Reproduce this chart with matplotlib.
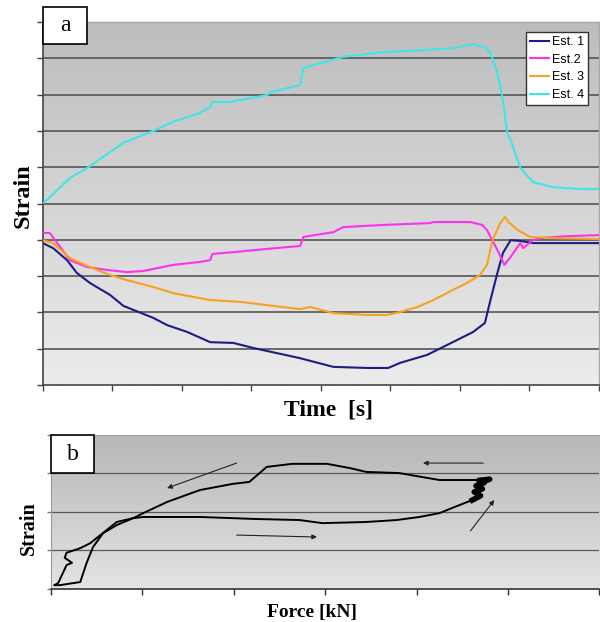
import numpy as np
import matplotlib
matplotlib.use('Agg')
import matplotlib.pyplot as plt
from matplotlib.colors import LinearSegmentedColormap
from matplotlib.patches import Rectangle

# ---- panel a data (time axis 0..8, strain axis 0..10) ----
est1_t = [0, 0.15, 0.35, 0.49, 0.68, 0.97, 1.16, 1.59, 1.79, 2.08, 2.41, 2.74, 3.03, 3.70, 4.18,
          4.67, 4.97, 5.14, 5.53, 5.76, 5.96, 6.19, 6.36, 6.44, 6.54, 6.62, 6.73, 6.87, 7.05, 8.0]
est1_s = [3.91, 3.77, 3.44, 3.09, 2.81, 2.48, 2.18, 1.85, 1.65, 1.46, 1.18, 1.16, 1.02, 0.74, 0.50,
          0.47, 0.47, 0.61, 0.83, 1.05, 1.24, 1.46, 1.71, 2.34, 3.09, 3.64, 3.99, 3.97, 3.91, 3.91]

est2_t = [0, 0.10, 0.21, 0.39, 0.64, 0.93, 1.21, 1.44, 1.88, 2.26, 2.41, 2.44, 2.74, 3.23, 3.70,
          3.75, 4.18, 4.32, 4.90, 5.57, 5.62, 6.15, 6.32, 6.39, 6.54, 6.64, 6.73, 6.87, 6.91, 7.05,
          7.16, 7.54, 8.0]
est2_s = [4.19, 4.19, 3.91, 3.44, 3.25, 3.17, 3.11, 3.14, 3.31, 3.39, 3.44, 3.61, 3.66, 3.75, 3.83,
          4.08, 4.21, 4.35, 4.41, 4.46, 4.49, 4.49, 4.41, 4.27, 3.72, 3.31, 3.53, 3.91, 3.77, 3.99,
          4.05, 4.10, 4.13]

est3_t = [0, 0.15, 0.39, 0.64, 0.97, 1.21, 1.59, 1.88, 2.41, 2.84, 3.23, 3.70, 3.85, 4.18, 4.67,
          4.95, 5.14, 5.39, 5.62, 5.90, 6.10, 6.29, 6.39, 6.47, 6.58, 6.65, 6.70, 6.83, 7.01, 7.30, 8.0]
est3_s = [3.99, 3.91, 3.50, 3.28, 3.03, 2.89, 2.70, 2.53, 2.34, 2.29, 2.20, 2.09, 2.15, 1.98, 1.93,
          1.93, 2.01, 2.15, 2.34, 2.62, 2.81, 3.03, 3.31, 3.99, 4.46, 4.63, 4.49, 4.27, 4.08, 4.05, 4.02]

est4_t = [0, 0.06, 0.39, 0.64, 1.16, 1.59, 1.87, 2.26, 2.41, 2.44, 2.69, 3.23, 3.27, 3.70, 3.75,
          4.32, 4.90, 5.53, 5.90, 6.18, 6.36, 6.44, 6.54, 6.62, 6.68, 6.73, 6.87, 7.05, 7.34, 7.73, 8.0]
est4_s = [5.01, 5.10, 5.70, 5.98, 6.67, 7.00, 7.25, 7.49, 7.66, 7.80, 7.80, 7.99, 8.07, 8.26, 8.73,
          9.04, 9.17, 9.23, 9.28, 9.39, 9.31, 9.15, 8.60, 7.85, 6.94, 6.75, 5.98, 5.59, 5.45, 5.40, 5.40]

series_names = ['Est. 1', 'Est.2', 'Est. 3', 'Est. 4']
series_colors = ['#1c1c84', '#ff30f0', '#f7a21e', '#3ee6e6']

# ---- panel b data (force axis 0..6, strain axis 0..4) ----
load_f = [0.04, 0.10, 0.32, 0.39, 0.46, 0.57, 0.72, 0.90, 1.01, 1.63, 2.21, 2.72, 2.97, 3.45,
          3.78, 4.03, 4.25, 4.47, 4.61]
load_s = [0.10, 0.10, 0.18, 0.68, 1.09, 1.45, 1.66, 1.84, 1.87, 1.87, 1.82, 1.79, 1.71, 1.74,
          1.79, 1.87, 1.97, 2.18, 2.31]
# jagged part at the turning point
turn_f = [4.61, 4.70, 4.63, 4.72, 4.65, 4.74, 4.68, 4.80, 4.77]
turn_s = [2.31, 2.42, 2.52, 2.60, 2.68, 2.76, 2.82, 2.85, 2.83]
unload_f = [4.77, 4.25, 3.81, 3.45, 3.27, 3.02, 2.64, 2.36, 2.17, 1.99, 1.63, 1.27, 1.01, 0.90,
            0.72, 0.54, 0.43, 0.32, 0.17, 0.15, 0.23, 0.17, 0.08, 0.04]
unload_s = [2.83, 2.83, 3.01, 3.04, 3.14, 3.25, 3.25, 3.17, 2.78, 2.73, 2.57, 2.26, 1.97, 1.84,
            1.74, 1.40, 1.19, 1.06, 0.94, 0.81, 0.68, 0.62, 0.16, 0.10]

# arrows (tail, head) in panel b data units
arrows_b = [((2.03, 3.27), (1.27, 2.62)),
            ((4.73, 3.27), (4.07, 3.27)),
            ((2.03, 1.40), (2.91, 1.35)),
            ((4.59, 1.51), (4.85, 2.31))]


def gradient_bg(ax, top, bottom, x0, x1, y0, y1):
    cmap = LinearSegmentedColormap.from_list('bg', [bottom, top])
    ax.imshow(np.linspace(0, 1, 256).reshape(-1, 1), cmap=cmap, origin='lower',
              extent=[x0, x1, y0, y1], aspect='auto', zorder=0, interpolation='bilinear')


fig = plt.figure(figsize=(6, 6.22), dpi=100)

# ---------------- panel a ----------------
ax1 = fig.add_axes([0.0712, 0.381, 0.927, 0.5836])
gradient_bg(ax1, '#bdbdbd', '#ececec', 0, 8, 0, 10)
for y in range(1, 10):
    ax1.axhline(y, color='#555555', lw=1.2, zorder=1)

for t, s, name, c in zip([est1_t, est2_t, est3_t, est4_t], [est1_s, est2_s, est3_s, est4_s],
                         series_names, series_colors):
    ax1.plot(t, s, color=c, lw=1.5, label=name, zorder=3)

ax1.set_xlim(0, 8)
ax1.set_ylim(0, 10)
ax1.set_xticks(range(0, 9))
ax1.set_yticks(range(0, 11))
ax1.set_xticklabels([])
ax1.set_yticklabels([])
ax1.tick_params(direction='out', length=4, width=1, color='#444444')
for side in ['left', 'bottom']:
    ax1.spines[side].set_color('#444444')
    ax1.spines[side].set_linewidth(1.2)
for side in ['top', 'right']:
    ax1.spines[side].set_color('#a8a8a8')
    ax1.spines[side].set_linewidth(1.0)

leg = ax1.legend(loc='upper right', bbox_to_anchor=(0.981, 0.973), borderaxespad=0,
                 prop={'family': 'Liberation Sans', 'size': 9}, handlelength=1.5,
                 handletextpad=0.25, labelspacing=0.45, borderpad=0.35, fancybox=False,
                 framealpha=1)
leg.get_frame().set_edgecolor('#333333')
leg.get_frame().set_linewidth(1.0)

fig.text(23 / 600, 1 - 196 / 622, 'Strain', rotation=90, ha='center', va='center',
         family='Liberation Serif', weight='bold', fontsize=17.5)
fig.text(328 / 600, 1 - 410 / 622, 'Time  [s]', ha='center', va='center',
         family='Liberation Serif', weight='bold', fontsize=17)

# ---------------- panel b ----------------
ax2 = fig.add_axes([0.085, 0.0531, 0.914, 0.2476])
gradient_bg(ax2, '#b6b6b6', '#e4e4e4', 0, 6, 0, 4)
for y in range(1, 4):
    ax2.axhline(y, color='#5a5a5a', lw=0.9, zorder=1)

ax2.plot(load_f, load_s, color='black', lw=1.4, zorder=3)
ax2.plot(turn_f, turn_s, color='black', lw=4.0, zorder=3)
ax2.plot(unload_f, unload_s, color='black', lw=1.4, zorder=3)

for tail, head in arrows_b:
    ax2.annotate('', xy=head, xytext=tail,
                 arrowprops=dict(arrowstyle='-|>', color='#222222', lw=0.8,
                                 mutation_scale=7, shrinkA=0, shrinkB=0), zorder=4)

ax2.set_xlim(0, 6)
ax2.set_ylim(0, 4)
ax2.set_xticks(range(0, 7))
ax2.set_yticks(range(0, 5))
ax2.set_xticklabels([])
ax2.set_yticklabels([])
ax2.tick_params(axis='x', direction='out', length=4, width=1, color='#333333')
ax2.tick_params(axis='y', direction='out', length=3, width=1, color='#777777')
ax2.spines['bottom'].set_color('#333333')
ax2.spines['bottom'].set_linewidth(1.2)
ax2.spines['left'].set_color('#9a9a9a')
ax2.spines['top'].set_color('#a0a0a0')
ax2.spines['right'].set_visible(False)

fig.text(29 / 600, 1 - 528 / 622, 'Strain', rotation=90, ha='center', va='center',
         family='Liberation Serif', weight='bold', fontsize=14.5)
fig.text(312 / 600, 1 - 612 / 622, 'Force [kN]', ha='center', va='center',
         family='Liberation Serif', weight='bold', fontsize=14)

# ---------------- panel letters ----------------
for (x0, y0, w, h), letter in [((43, 7, 44, 37), 'a'), ((51, 435, 43, 38), 'b')]:
    fig.add_artist(Rectangle((x0 / 600, 1 - (y0 + h) / 622), w / 600, h / 622,
                             transform=fig.transFigure, facecolor='white',
                             edgecolor='black', lw=1.2, zorder=10))
    fig.text((x0 + w / 2) / 600, 1 - (y0 + h / 2) / 622, letter, ha='center', va='center',
             family='Liberation Serif', fontsize=17, zorder=11)

fig.savefig('out.png', dpi=100)
